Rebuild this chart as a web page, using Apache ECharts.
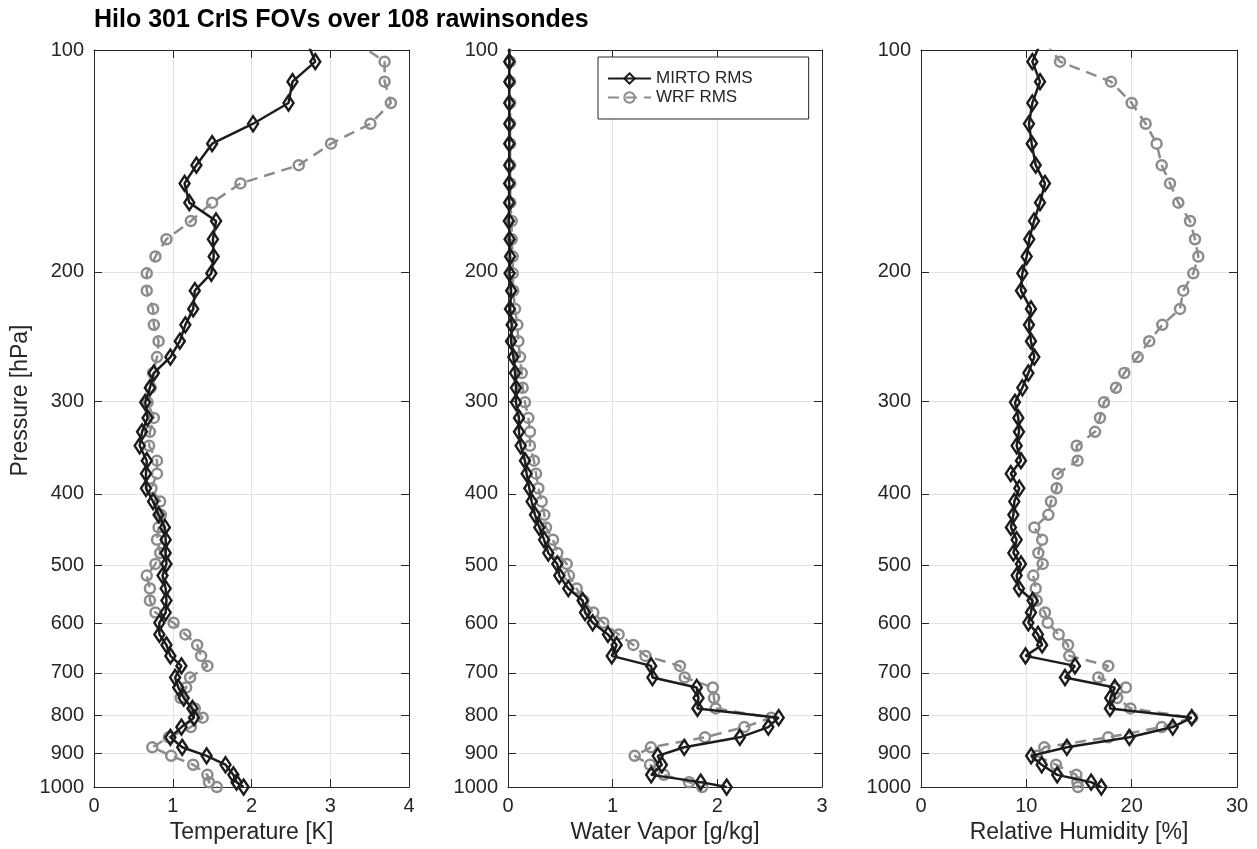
<!DOCTYPE html>
<html>
<head>
<meta charset="utf-8">
<title>Hilo 301 CrIS FOVs over 108 rawinsondes</title>
<script src="https://cdn.jsdelivr.net/npm/echarts@6/dist/echarts.min.js"></script>
<style>
  html, body { margin: 0; padding: 0; background: #ffffff; }
  #chart { width: 1257px; height: 849px; }
</style>
</head>
<body>
<div id="chart"></div>
<script>
// Pressure levels [hPa] shared by all profiles (first level lies just above the plotted range)
const pressure = [97.2, 103.7, 110.4, 118.0, 125.9, 134.0, 143.3, 151.7, 161.1, 170.6,
  180.6, 190.6, 200.9, 212.1, 224.5, 236.0, 248.3, 261.0, 274.3, 287.2,
  300.6, 315.6, 329.6, 344.3, 360.7, 375.6, 393.2, 409.8, 427.2, 444.3,
  461.8, 481.3, 498.0, 516.5, 537.8, 558.3, 579.6, 598.4, 620.6, 641.4,
  663.7, 684.8, 710.1, 732.6, 757.0, 782.1, 805.0, 829.0, 856.0, 883.1,
  907.0, 932.5, 962.5, 984.6, 1000.0];

// Temperature RMS [K]
const tempMirto = [2.70, 2.81, 2.52, 2.47, 2.02, 1.50, 1.30, 1.15, 1.21, 1.55,
  1.51, 1.52, 1.49, 1.28, 1.26, 1.16, 1.09, 0.97, 0.76, 0.71,
  0.65, 0.68, 0.61, 0.58, 0.67, 0.66, 0.66, 0.75, 0.82, 0.90,
  0.91, 0.91, 0.92, 0.87, 0.91, 0.92, 0.91, 0.83, 0.83, 0.92,
  0.97, 1.11, 1.03, 1.07, 1.14, 1.25, 1.27, 1.11, 0.97, 1.12,
  1.43, 1.67, 1.77, 1.81, 1.90];
const tempWrf = [3.31, 3.69, 3.69, 3.77, 3.51, 3.01, 2.60, 1.86, 1.50, 1.23,
  0.92, 0.78, 0.67, 0.67, 0.75, 0.76, 0.82, 0.80, 0.75, 0.72,
  0.68, 0.76, 0.71, 0.70, 0.80, 0.80, 0.73, 0.84, 0.85, 0.82,
  0.80, 0.84, 0.78, 0.67, 0.71, 0.71, 0.78, 1.01, 1.16, 1.31,
  1.36, 1.44, 1.22, 1.17, 1.10, 1.28, 1.38, 1.23, 0.95, 0.74,
  0.98, 1.26, 1.44, 1.46, 1.56];

// Water vapor mixing ratio RMS [g/kg]
const wvMirto = [0.012, 0.012, 0.013, 0.012, 0.013, 0.012, 0.012, 0.011, 0.011, 0.008,
  0.015, 0.020, 0.015, 0.030, 0.019, 0.035, 0.029, 0.051, 0.067, 0.076,
  0.076, 0.105, 0.105, 0.121, 0.162, 0.178, 0.204, 0.226, 0.258, 0.299,
  0.345, 0.385, 0.471, 0.490, 0.576, 0.713, 0.736, 0.809, 0.955, 1.038,
  0.991, 1.368, 1.380, 1.803, 1.820, 1.810, 2.586, 2.487, 2.215, 1.684,
  1.430, 1.470, 1.368, 1.841, 2.089];
const wvWrf = [0.018, 0.020, 0.020, 0.021, 0.020, 0.021, 0.020, 0.022, 0.022, 0.035,
  0.035, 0.045, 0.045, 0.050, 0.067, 0.089, 0.099, 0.115, 0.131, 0.140,
  0.162, 0.194, 0.210, 0.210, 0.248, 0.268, 0.290, 0.322, 0.347, 0.363,
  0.430, 0.471, 0.561, 0.583, 0.656, 0.720, 0.815, 0.911, 1.057, 1.197,
  1.313, 1.643, 1.688, 1.957, 1.968, 1.984, 2.515, 2.258, 1.882, 1.365,
  1.210, 1.357, 1.489, 1.730, 1.855];

// Relative humidity RMS [%]
const rhMirto = [11.43, 10.57, 11.30, 10.57, 10.25, 10.51, 10.89, 11.77, 11.30, 10.73,
  10.28, 10.03, 9.62, 9.49, 10.44, 10.25, 10.44, 10.76, 10.19, 9.62,
  8.92, 9.24, 9.30, 9.08, 9.49, 8.52, 9.33, 8.86, 8.77, 8.54,
  9.08, 8.77, 9.49, 9.08, 9.30, 10.60, 10.44, 10.19, 11.10, 11.50,
  9.92, 14.62, 13.67, 18.40, 17.97, 17.94, 25.70, 23.90, 19.78, 13.85,
  10.46, 11.46, 12.93, 16.15, 17.12];
const rhWrf = [11.73, 13.20, 18.04, 20.00, 21.33, 22.37, 22.85, 23.64, 24.43, 25.54,
  26.01, 26.33, 25.85, 24.90, 24.59, 22.91, 21.67, 20.57, 19.30, 18.51,
  17.37, 16.99, 16.52, 14.78, 14.87, 12.98, 12.88, 12.34, 12.09, 10.76,
  11.50, 11.14, 11.55, 10.66, 10.89, 10.98, 11.77, 12.03, 13.07, 13.96,
  14.08, 17.78, 16.83, 19.45, 18.62, 19.88, 25.75, 22.85, 17.78, 11.70,
  10.98, 12.82, 14.75, 14.85, 14.90];

// Axis ticks
const pressureTicks = [100, 200, 300, 400, 500, 600, 700, 800, 900, 1000];
const tempTicks = [0, 1, 2, 3, 4];
const wvTicks = [0, 1, 2, 3];
const rhTicks = [0, 10, 20, 30];

const seriesNames = ['MIRTO RMS', 'WRF RMS'];
const axisTitles = ['Temperature [K]', 'Water Vapor [g/kg]', 'Relative Humidity [%]'];

const FONT = '"Liberation Sans", Arial, Helvetica, sans-serif';
const TEXT = '#262626';
const AXIS = '#262626';
const GRID = '#e3e3e3';
const DARK = '#1c1c1c';
const GRAY = '#8c8c8c';

const panels = [
  { left: 94, width: 315, ticks: tempTicks, mirto: tempMirto, wrf: tempWrf, title: axisTitles[0] },
  { left: 508, width: 314, ticks: wvTicks, mirto: wvMirto, wrf: wvWrf, title: axisTitles[1] },
  { left: 921, width: 316, ticks: rhTicks, mirto: rhMirto, wrf: rhWrf, title: axisTitles[2] }
];

const toProfile = vals => vals.map((v, i) => [v, pressure[i]]);
const plain = v => String(Math.round(v));

const grid = [], xAxis = [], yAxis = [], series = [];

panels.forEach((p, i) => {
  grid.push({ left: p.left, top: 50, width: p.width, height: 740, containLabel: false });
  const lo = p.ticks[0], hi = p.ticks[p.ticks.length - 1];
  const step = p.ticks[1] - p.ticks[0];
  const xBase = {
    gridIndex: i, type: 'value', min: lo, max: hi, interval: step,
    axisLine: { show: true, onZero: false, lineStyle: { color: AXIS, width: 1 } },
    axisTick: { show: true, inside: true, length: 8, lineStyle: { color: AXIS } }
  };
  xAxis.push(Object.assign({}, xBase, {
    position: 'bottom',
    name: p.title, nameLocation: 'middle', nameGap: 30,
    nameTextStyle: { fontFamily: FONT, fontSize: 23, color: TEXT },
    axisLabel: { show: true, margin: 9, fontFamily: FONT, fontSize: 20, color: TEXT, formatter: plain },
    splitLine: { show: true, lineStyle: { color: GRID, width: 1 } }
  }));
  xAxis.push(Object.assign({}, xBase, {
    position: 'top', axisLabel: { show: false }, splitLine: { show: false }
  }));

  const yBase = {
    gridIndex: i, type: 'log', logBase: 10, min: 100, max: 1000, inverse: true,
    axisLine: { show: true, onZero: false, lineStyle: { color: AXIS, width: 1 } },
    axisTick: { show: true, inside: true, length: 8, customValues: pressureTicks, lineStyle: { color: AXIS } }
  };
  yAxis.push(Object.assign({}, yBase, {
    position: 'left',
    name: i === 0 ? 'Pressure [hPa]' : '',
    nameLocation: 'middle', nameGap: 62,
    nameTextStyle: { fontFamily: FONT, fontSize: 23, color: TEXT, padding: [0, 0, 0, 36] },
    axisLabel: { show: true, margin: 10, customValues: pressureTicks, fontFamily: FONT, fontSize: 20, color: TEXT, formatter: plain },
    splitLine: { show: true, lineStyle: { color: GRID, width: 1 } }
  }));
  yAxis.push(Object.assign({}, yBase, {
    position: 'right', axisLabel: { show: false }, splitLine: { show: false }
  }));

  series.push({
    name: seriesNames[0], type: 'line', xAxisIndex: 2 * i, yAxisIndex: 2 * i,
    data: toProfile(p.mirto), clip: true, z: 3,
    symbol: 'diamond', symbolSize: [10, 15],
    itemStyle: { color: 'rgba(255,255,255,0)', borderColor: DARK, borderWidth: 2.5 },
    lineStyle: { color: DARK, width: 2.5 },
    emphasis: { disabled: true }
  });
  series.push({
    name: seriesNames[1], type: 'line', xAxisIndex: 2 * i, yAxisIndex: 2 * i,
    data: toProfile(p.wrf), clip: true, z: 2,
    symbol: 'circle', symbolSize: 10,
    itemStyle: { color: 'rgba(255,255,255,0)', borderColor: GRAY, borderWidth: 2.5 },
    lineStyle: { color: GRAY, width: 2.5, type: [11, 7] },
    emphasis: { disabled: true }
  });
});

const chart = echarts.init(document.getElementById('chart'), null, { renderer: 'canvas' });
chart.setOption({
  animation: false,
  backgroundColor: '#ffffff',
  textStyle: { fontFamily: FONT },
  title: {
    text: 'Hilo 301 CrIS FOVs over 108 rawinsondes',
    left: 94, top: 8, padding: 0,
    textStyle: { fontFamily: FONT, fontSize: 25, fontWeight: 'bold', color: '#000000' }
  },
  legend: {
    data: seriesNames,
    orient: 'vertical',
    left: 598, top: 57,
    padding: [12, 56, 12, 9],
    itemWidth: 43, itemHeight: 13, itemGap: 0,
    backgroundColor: '#ffffff',
    borderColor: AXIS, borderWidth: 1,
    textStyle: { fontFamily: FONT, fontSize: 17, color: TEXT, lineHeight: 19 },
    selectedMode: false
  },
  grid, xAxis, yAxis, series
});
</script>
</body>
</html>
